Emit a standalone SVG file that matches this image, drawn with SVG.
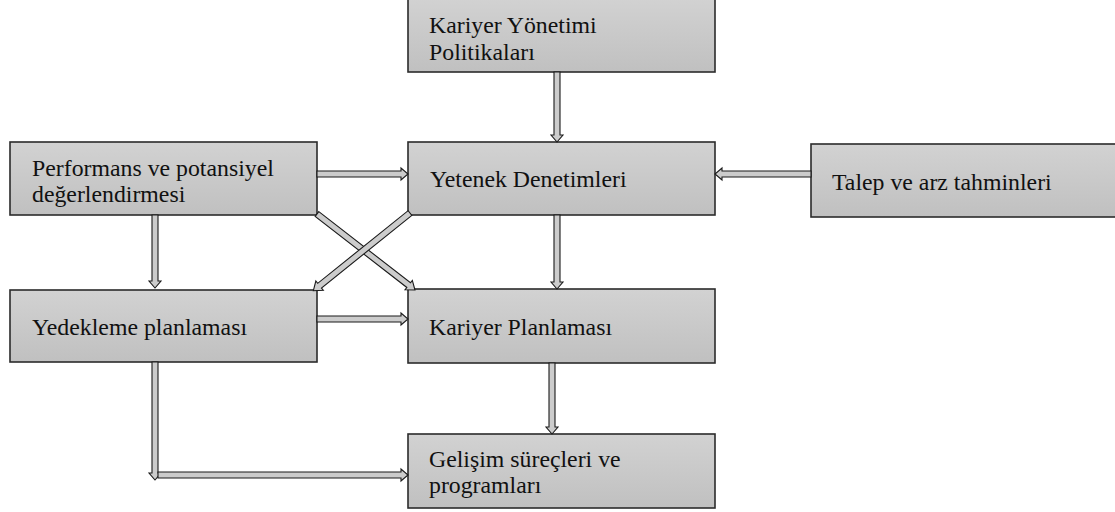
<svg xmlns="http://www.w3.org/2000/svg" width="1115" height="512" viewBox="0 0 1115 512">
<defs>
<linearGradient id="g" x1="0" y1="0" x2="0" y2="1">
<stop offset="0" stop-color="#d2d2d2"/>
<stop offset="1" stop-color="#c0c0c0"/>
</linearGradient>
<style>
.box{fill:url(#g);stroke:#2b2b2b;stroke-width:1.6}
.t{font-family:"Liberation Serif","Times New Roman",serif;font-size:23.8px;fill:#111}
.ar{fill:#cccccc;stroke:#1a1a1a;stroke-width:1.1;stroke-linejoin:miter}
</style>
</defs>
<rect width="1115" height="512" fill="#fff"/>
<g id="n-politikalar"><rect class="box" x="408" y="-2" width="307" height="74"/><text class="t" x="429" y="33">Kariyer Yönetimi</text><text class="t" x="429" y="60">Politikaları</text></g>
<g id="n-performans"><rect class="box" x="10" y="142" width="307" height="73"/><text class="t" x="32" y="176">Performans ve potansiyel</text><text class="t" x="32" y="202">değerlendirmesi</text></g>
<g id="n-yetenek"><rect class="box" x="408" y="142" width="307" height="73"/><text class="t" x="430" y="187">Yetenek Denetimleri</text></g>
<g id="n-talep"><rect class="box" x="811" y="144" width="310" height="73"/><text class="t" x="832" y="190">Talep ve arz tahminleri</text></g>
<g id="n-yedekleme"><rect class="box" x="10" y="290" width="307" height="72"/><text class="t" x="32" y="335">Yedekleme planlaması</text></g>
<g id="n-kariyerplan"><rect class="box" x="408" y="289" width="307" height="74"/><text class="t" x="429" y="335">Kariyer Planlaması</text></g>
<g id="n-gelisim"><rect class="box" x="408" y="434" width="307" height="74"/><text class="t" x="429" y="467">Gelişim süreçleri ve</text><text class="t" x="429" y="493">programları</text></g>
<g id="connectors">
<path class="ar" transform="translate(557,72) rotate(90)" d="M0,-3 H63 V-6 L70,0 L63,6 V3 H0 Z"/>
<path class="ar" transform="translate(317,174)" d="M0,-3 H84 V-6 L91,0 L84,6 V3 H0 Z"/>
<path class="ar" transform="translate(811,174) rotate(180)" d="M0,-3 H89 V-6 L96,0 L89,6 V3 H0 Z"/>
<path class="ar" transform="translate(557,215) rotate(90)" d="M0,-3 H67 V-6 L74,0 L67,6 V3 H0 Z"/>
<path class="ar" transform="translate(155,215) rotate(90)" d="M0,-3 H66 V-6 L73,0 L66,6 V3 H0 Z"/>
<path class="ar" transform="translate(317,214) rotate(37.8)" d="M0,-3 H116 V-6 L124,0 L116,6 V3 H0 Z"/>
<path class="ar" transform="translate(410,213) rotate(141.2)" d="M0,-3 H116 V-6 L124,0 L116,6 V3 H0 Z"/>
<path class="ar" transform="translate(317,319)" d="M0,-3 H84 V-6 L91,0 L84,6 V3 H0 Z"/>
<path class="ar" transform="translate(552,363) rotate(90)" d="M0,-3 H64 V-6 L71,0 L64,6 V3 H0 Z"/>
<path class="ar" transform="translate(155,362) rotate(90)" d="M0,-3 H111 V-6 L118,0 L111,6 V3 H0 Z"/>
<path class="ar" transform="translate(158,475)" d="M0,-3 H243 V-6 L250,0 L243,6 V3 H0 Z"/>
</g>
</svg>
